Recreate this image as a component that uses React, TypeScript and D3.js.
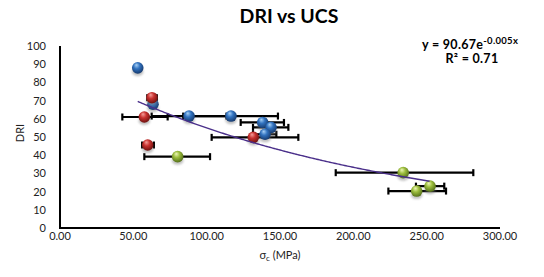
import React from "react";
import * as d3 from "d3";

// Blue series
const blueX = [53, 63.4, 88, 116.6, 138.2, 143.9, 139.8];
const blueY = [88, 68, 61.5, 61.5, 58, 55.3, 51.5];
const blueLow = [53, 61.5, 62.5, 84, 123.2, 131.6, 131.6];
const blueHigh = [53, 65.5, 113.5, 148.6, 152.7, 155.7, 147.5];

// Red series
const redX = [62.7, 57.5, 59.8, 131.8];
const redY = [71.6, 61, 45.6, 49.8];
const redLow = [59.5, 42.5, 56, 103.4];
const redHigh = [66, 73.4, 64, 162.5];

// Green series
const greenX = [80.2, 234, 252.3, 243.2];
const greenY = [39.2, 30.4, 23, 20.3];
const greenLow = [57.5, 188, 242.7, 223.9];
const greenHigh = [102.3, 281.8, 262, 263.2];

const xTicks = [0, 50, 100, 150, 200, 250, 300];
const yTicks = [0, 10, 20, 30, 40, 50, 60, 70, 80, 90, 100];

const trendA = 90.67;
const trendB = -0.005;
const trendRange = [53, 252.3];

const series = [
  { id: "blue", x: blueX, y: blueY, lo: blueLow, hi: blueHigh, light: "#a9d2f7", base: "#3273c0", dark: "#163a6e" },
  { id: "red", x: redX, y: redY, lo: redLow, hi: redHigh, light: "#f5a09c", base: "#c8312f", dark: "#6e1210" },
  { id: "green", x: greenX, y: greenY, lo: greenLow, hi: greenHigh, light: "#eef7b8", base: "#9cbd3d", dark: "#55701a" },
];

const FONT = "Lato, 'Open Sans', sans-serif";

export default function App() {
  const x = d3.scaleLinear().domain([0, 300]).range([60, 500]);
  const y = d3.scaleLinear().domain([0, 100]).range([228, 46]);
  const trendPts = d3.range(trendRange[0], trendRange[1] + 0.01, 1).map((v) => [v, trendA * Math.exp(trendB * v)] as [number, number]);
  const line = d3.line<[number, number]>().x((d) => x(d[0])).y((d) => y(d[1]))(trendPts) || "";
  const r = 5.8;
  const cap = 3.5;
  return (
    <div style={{ position: "absolute", left: 0, top: 0 }}>
      <svg width={544} height={277} style={{ display: "block", background: "#fff" }} fontFamily={FONT}>
        <defs>
          {series.map((s) => (
            <radialGradient key={s.id} id={"g-" + s.id} cx="45%" cy="40%" r="60%" fx="38%" fy="25%">
              <stop offset="0%" stopColor={s.light} />
              <stop offset="45%" stopColor={s.base} />
              <stop offset="100%" stopColor={s.dark} />
            </radialGradient>
          ))}
          <filter id="blur" x="-50%" y="-50%" width="200%" height="200%">
            <feGaussianBlur stdDeviation="1.3" />
          </filter>
        </defs>
        <text x={289} y={23} textAnchor="middle" fontSize={19.5} fontWeight="bold" fill="#000">DRI vs UCS</text>
        <text x={422} y={48.5} fontSize={12.5} fontWeight="bold" fill="#000" letterSpacing={0.3}>
          y = 90.67e<tspan dy={-5} fontSize={9.5}>-0.005x</tspan>
        </text>
        <text x={472} y={62.5} textAnchor="middle" fontSize={12.5} fontWeight="bold" fill="#000" letterSpacing={0.3}>
          R² = 0.71
        </text>
        {/* axes */}
        <line x1={x(0)} x2={x(0)} y1={y(100)} y2={y(0)} stroke="#000" strokeWidth={2} />
        <line x1={x(0) - 1} x2={x(300)} y1={y(0)} y2={y(0)} stroke="#000" strokeWidth={2} />
        {yTicks.map((t) => (
          <text key={"y" + t} x={46} y={y(t) + 4} textAnchor="end" fontSize={11} fill="#222">{t}</text>
        ))}
        {xTicks.map((t) => (
          <text key={"x" + t} x={x(t)} y={240} textAnchor="middle" fontSize={11} fill="#222">{t.toFixed(2)}</text>
        ))}
        <text x={280} y={259} textAnchor="middle" fontSize={11} fill="#222">
          σ<tspan dy={2} fontSize={8}>c</tspan><tspan dy={-2}> (MPa)</tspan>
        </text>
        <text transform={`translate(24,133) rotate(-90)`} textAnchor="middle" fontSize={11} fill="#222">DRI</text>
        {/* error bars */}
        {series.map((s) =>
          s.x.map((_, i) =>
            s.hi[i] - s.lo[i] > 0.5 ? (
              <g key={s.id + "e" + i} stroke="#000" strokeWidth={2.2}>
                <line x1={x(s.lo[i])} x2={x(s.hi[i])} y1={y(s.y[i])} y2={y(s.y[i])} />
                <line x1={x(s.lo[i])} x2={x(s.lo[i])} y1={y(s.y[i]) - cap} y2={y(s.y[i]) + cap} />
                <line x1={x(s.hi[i])} x2={x(s.hi[i])} y1={y(s.y[i]) - cap} y2={y(s.y[i]) + cap} />
              </g>
            ) : null
          )
        )}
        {/* markers */}
        {series.map((s) =>
          s.x.map((_, i) => (
            <g key={s.id + "m" + i}>
              <ellipse cx={x(s.x[i])} cy={y(s.y[i]) + 4} rx={r} ry={r * 0.7} fill="#777" opacity={0.45} filter="url(#blur)" />
              <circle cx={x(s.x[i])} cy={y(s.y[i])} r={r} fill={`url(#g-${s.id})`} />
            </g>
          ))
        )}
        <path d={line} fill="none" stroke="#4a2f8a" strokeWidth={1.4} />
      </svg>
    </div>
  );
}
